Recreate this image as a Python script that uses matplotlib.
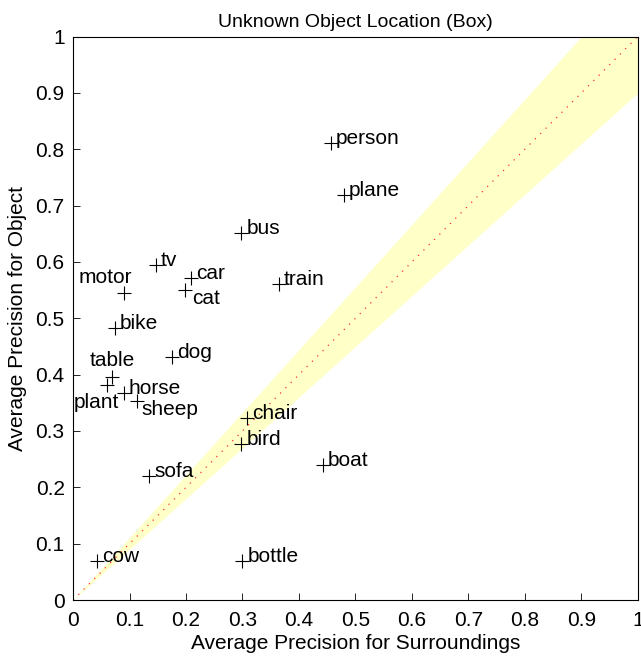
import numpy as np
import matplotlib.pyplot as plt

plt.rcParams['font.family'] = ['Liberation Sans', 'DejaVu Sans']

# datos: precision para el entorno (x) y para el objeto (y)
names = ['person', 'plane', 'bus', 'train', 'tv', 'motor', 'car', 'cat', 'bike',
         'dog', 'table', 'plant', 'horse', 'sheep', 'chair', 'bird', 'boat',
         'sofa', 'cow', 'bottle']
ap_surround = [0.456, 0.479, 0.298, 0.364, 0.147, 0.090, 0.209, 0.199, 0.074,
               0.176, 0.069, 0.060, 0.090, 0.113, 0.308, 0.298, 0.443,
               0.135, 0.042, 0.300]
ap_object = [0.812, 0.719, 0.652, 0.561, 0.595, 0.545, 0.572, 0.551, 0.483,
             0.432, 0.396, 0.382, 0.368, 0.354, 0.323, 0.277, 0.240,
             0.220, 0.070, 0.070]

# donde va cada etiqueta (offset en puntos, alineacion)
label_pos = {
    'motor': ((-13.5, 11), 'center'),
    'table': ((0, 12), 'center'),
    'plant': ((9, -13), 'right'),
    'cat': ((5, -6.5), 'left'),
    'sheep': ((3.5, -6.5), 'left'),
}

fig = plt.figure(figsize=(6.41, 6.59), dpi=100)
ax = fig.add_axes([0.114, 0.0895, 0.881, 0.855])

xx = np.array([0, 1])
ax.fill_between(xx, 0.9 * xx, xx / 0.9, color='#ffffc8', lw=0, zorder=0)
ax.plot(xx, xx, color='#ff3030', lw=0.9, ls=(0, (1, 5)), zorder=1)

ax.plot(ap_surround, ap_object, '+', color='black', ms=10, mew=0.8, zorder=3)

for n, x, y in zip(names, ap_surround, ap_object):
    off, ha = label_pos.get(n, ((3.5, 3), 'left'))
    ax.annotate(n, (x, y), xytext=off, textcoords='offset points',
                ha=ha, va='center', fontsize=15)

ax.set_xlim(0, 1)
ax.set_ylim(0, 1)
ticks = np.arange(0, 1.01, 0.1)
ax.set_xticks(ticks)
ax.set_yticks(ticks)
ax.set_xticklabels(['0'] + ['%.1f' % t for t in ticks[1:-1]] + ['1'])
ax.set_yticklabels(['0'] + ['%.1f' % t for t in ticks[1:-1]] + ['1'])
ax.tick_params(direction='in', length=5, labelsize=15, width=0.6, pad=6)
ax.tick_params(axis='x', pad=8)
for s in ax.spines.values():
    s.set_linewidth(0.8)

ax.set_title('Unknown Object Location (Box)', fontsize=14, pad=7)
ax.set_xlabel('Average Precision for Surroundings', fontsize=15, labelpad=3)
ax.set_ylabel('Average Precision for Object', fontsize=15, labelpad=6)

fig.savefig('out.png', dpi=100)
